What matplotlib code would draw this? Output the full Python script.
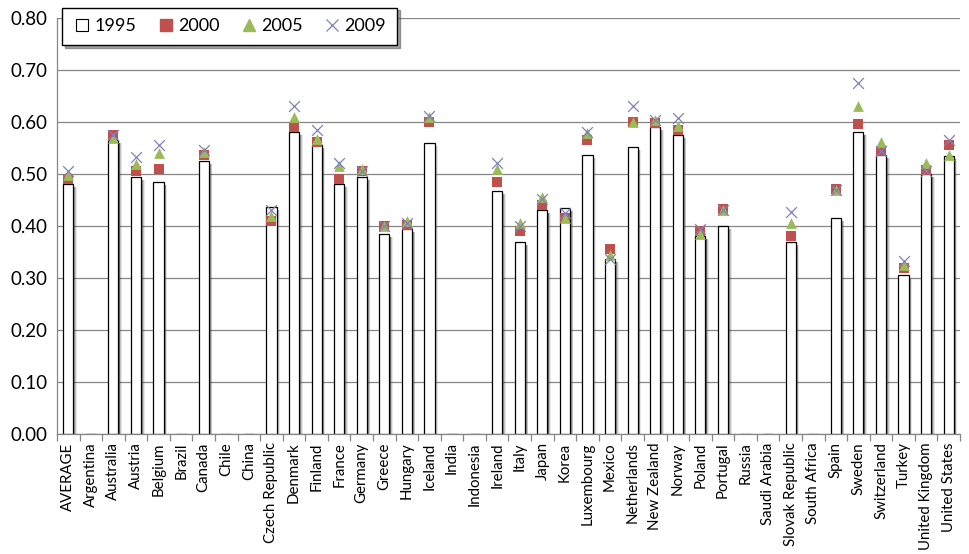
import numpy as np
import matplotlib.pyplot as plt
from matplotlib.lines import Line2D

nan = np.nan

countries = ["AVERAGE", "Argentina", "Australia", "Austria", "Belgium", "Brazil",
             "Canada", "Chile", "China", "Czech Republic", "Denmark", "Finland",
             "France", "Germany", "Greece", "Hungary", "Iceland", "India",
             "Indonesia", "Ireland", "Italy", "Japan", "Korea", "Luxembourg",
             "Mexico", "Netherlands", "New Zealand", "Norway", "Poland", "Portugal",
             "Russia", "Saudi Arabia", "Slovak Republic", "South Africa", "Spain",
             "Sweden", "Switzerland", "Turkey", "United Kingdom", "United States"]

v1995 = [0.480, nan, 0.565, 0.495, 0.485, nan, 0.525, nan, nan, 0.437, 0.580, 0.555,
         0.480, 0.495, 0.385, 0.395, 0.560, nan, nan, 0.467, 0.370, 0.430, 0.435, 0.537,
         0.337, 0.552, 0.590, 0.575, 0.380, 0.400, nan, nan, 0.370, nan, 0.415,
         0.580, 0.537, 0.305, 0.500, 0.535]
v2000 = [0.490, nan, 0.575, 0.505, 0.510, nan, 0.537, nan, nan, 0.410, 0.590, 0.562,
         0.490, 0.505, 0.400, 0.402, 0.600, nan, nan, 0.485, 0.390, 0.440, 0.415, 0.565,
         0.355, 0.600, 0.598, 0.585, 0.390, 0.432, nan, nan, 0.380, nan, 0.472,
         0.597, 0.545, 0.320, 0.507, 0.555]
v2005 = [0.498, nan, 0.570, 0.520, 0.540, nan, 0.542, nan, nan, 0.420, 0.610, 0.567,
         0.515, 0.510, 0.400, 0.410, 0.610, nan, nan, 0.510, 0.405, 0.455, 0.415, 0.578,
         0.345, 0.600, 0.603, 0.593, 0.385, 0.430, nan, nan, 0.405, nan, 0.470,
         0.630, 0.562, 0.325, 0.522, 0.537]
v2009 = [0.505, nan, 0.575, 0.532, 0.556, nan, 0.546, nan, nan, 0.430, 0.630, 0.585,
         0.522, 0.505, 0.400, 0.405, 0.612, nan, nan, 0.522, 0.400, 0.452, 0.425, 0.580,
         0.337, 0.630, 0.603, 0.607, 0.395, 0.430, nan, nan, 0.427, nan, 0.470,
         0.675, 0.545, 0.332, 0.505, 0.565]

yticks = [0.0, 0.1, 0.2, 0.3, 0.4, 0.5, 0.6, 0.7, 0.8]

plt.rcParams['font.family'] = ['Lato', 'DejaVu Sans']

fig = plt.figure(figsize=(9.69, 5.54), dpi=100)
ax = fig.add_axes([0.0588, 0.2166, 0.9319, 0.7510])

x = np.arange(len(countries))
b95 = np.nan_to_num(np.array(v1995))
bw = 0.45

# soft shadow to the right of the bars
for k, a in enumerate([0.12, 0.22, 0.35, 0.5]):
    ax.bar(x + 0.05 + 0.035 * (3 - k), np.where(b95 > 0, b95 - 0.006, 0), width=bw,
           color='#404040', alpha=a, linewidth=0, zorder=1)
ax.bar(x, b95, width=bw, color='white', edgecolor='black', linewidth=0.9, zorder=2)

ax.scatter(x, v2000, marker='s', s=55, color='#C0504D', zorder=3, linewidths=0)
ax.scatter(x, v2005, marker='^', s=60, color='#9BBB59', zorder=4, linewidths=0)
ax.scatter(x, v2009, marker='x', s=60, color='#8080C0', linewidths=0.9, zorder=5)

ax.set_xlim(-0.5, len(countries) - 0.5)
ax.set_ylim(0, 0.8)
ax.set_yticks(yticks)
ax.set_yticklabels([f"{t:.2f}" for t in yticks], fontsize=13.5)
ax.yaxis.grid(True, color='#868686', linewidth=0.9)
ax.set_axisbelow(True)
ax.tick_params(axis='y', length=0, pad=7)

ax.set_xticks(x)
ax.set_xticklabels(countries, rotation=90, fontsize=10.8)
ax.tick_params(axis='x', length=0, pad=6)
ax.set_xticks(np.arange(-0.5, len(countries)), minor=True)
ax.tick_params(axis='x', which='minor', length=5, color='#868686', width=0.9)

for s in ['top', 'right']:
    ax.spines[s].set_visible(False)
for s in ['left', 'bottom']:
    ax.spines[s].set_color('#868686')
    ax.spines[s].set_linewidth(0.9)

handles = [
    Line2D([], [], marker='s', ls='none', markerfacecolor='white', markeredgecolor='black',
           markersize=9, markeredgewidth=0.8),
    Line2D([], [], marker='s', ls='none', color='#C0504D', markersize=9),
    Line2D([], [], marker='^', ls='none', color='#9BBB59', markersize=9),
    Line2D([], [], marker='x', ls='none', color='#8080C0', markersize=9, markeredgewidth=0.9),
]
leg = ax.legend(handles, ['1995', '2000', '2005', '2009'], ncol=4, loc='upper left',
                bbox_to_anchor=(0.006, 1.025), frameon=True, fancybox=False, shadow=True,
                fontsize=13, handletextpad=0.2, columnspacing=1.1, borderpad=0.6,
                handlelength=1.0, borderaxespad=0)
leg.get_frame().set_edgecolor('black')
leg.get_frame().set_linewidth(1.0)

fig.savefig('out.png', dpi=100)
